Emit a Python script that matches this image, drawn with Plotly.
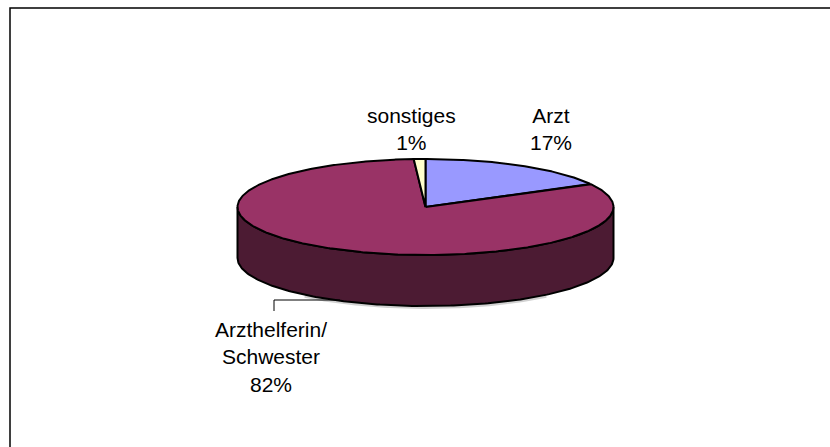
import numpy as np
import plotly.graph_objects as go

# Data
categories = ["Arzt", "Arzthelferin/<br>Schwester", "sonstiges"]
values = [17, 82, 1]
pct_labels = ["17%", "82%", "1%"]
colors = ["#9999FF", "#993366", "#FFFFCC"]
side_color = "#4C1B33"

W, H = 830, 447
cx, cy = 425.5, 207.0
rx, ry = 188.0, 48.0
depth = 51.0


def ell(theta_deg, dy=0.0):
    t = np.radians(theta_deg)
    return cx + rx * np.sin(t), cy + dy - ry * np.cos(t)


fig = go.Figure()

# soft shadow under the pie
th = np.linspace(140, 220, 120)
sx, sy = ell(th, depth + 1.5)
fig.add_trace(go.Scatter(x=sx, y=sy, mode="lines",
                         line=dict(color="rgba(0,0,0,0.18)", width=3),
                         hoverinfo="skip", showlegend=False))

# side wall (front half)
th = np.linspace(90, 270, 200)
tx, ty = ell(th)
bx, by = ell(th[::-1], depth)
fig.add_trace(go.Scatter(x=np.concatenate([tx, bx, tx[:1]]),
                         y=np.concatenate([ty, by, ty[:1]]),
                         mode="lines", fill="toself", fillcolor=side_color,
                         line=dict(color="black", width=2),
                         hoverinfo="skip", showlegend=False))

# top slices
total = sum(values)
start = 0.0
for cat, v, col in zip(categories, values, colors):
    span = 360.0 * v / total
    th = np.linspace(start, start + span, max(int(span * 2), 4))
    ax, ay = ell(th)
    xs = np.concatenate([[cx], ax, [cx]])
    ys = np.concatenate([[cy], ay, [cy]])
    fig.add_trace(go.Scatter(x=xs, y=ys, mode="lines", fill="toself",
                             fillcolor=col, line=dict(color="black", width=2),
                             hoverinfo="skip", showlegend=False))
    start += span

font = dict(family="Liberation Sans, Arial, sans-serif", size=21, color="black")
label_pos = [(551, 129), (271, 357), (411, 129)]
for cat, p, (lx, ly) in zip(categories, pct_labels, label_pos):
    fig.add_annotation(x=lx, y=ly, xref="x", yref="y", text=f"{cat}<br>{p}",
                       showarrow=False, font=font, align="center",
                       xanchor="center", yanchor="middle")

# leader line for Arzthelferin
fig.add_shape(type="path", path="M 340 300 L 274 300 L 274 311",
              xref="x", yref="y", line=dict(color="black", width=1))

# outer chart border (only top and left edges fall inside the image)
fig.add_shape(type="path", path="M 900 8 L 10 8 L 10 500",
              xref="x", yref="y", line=dict(color="black", width=1.5))

fig.update_xaxes(range=[0, W], visible=False, fixedrange=True)
fig.update_yaxes(range=[H, 0], visible=False, fixedrange=True)
fig.update_layout(width=W, height=H, margin=dict(l=0, r=0, t=0, b=0),
                  paper_bgcolor="white", plot_bgcolor="white")

fig.write_html("out.html", config={"displayModeBar": False},
               post_script="document.body.style.margin='0';"
                           "document.body.style.overflow='hidden';")
